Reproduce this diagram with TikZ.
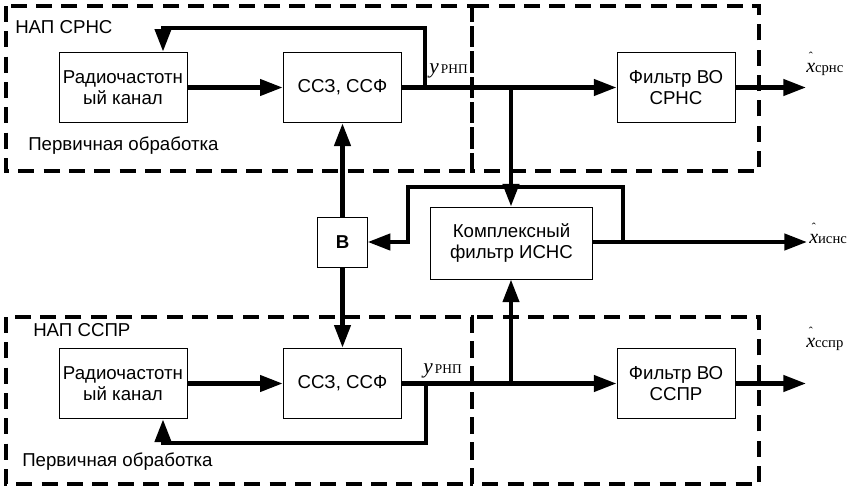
\documentclass[tikz,border=0pt]{standalone}
\usepackage{fontspec}
\setmainfont{Liberation Sans}
\newfontfamily\tms{Liberation Serif}
\usetikzlibrary{arrows.meta}
\newcommand{\estim}[1]{{\tms\fontsize{15}{15}\selectfont\rlap{\raisebox{9pt}{\kern2pt\fontsize{9}{9}\selectfont ˆ}}\textit{x}\fontsize{11}{11}\selectfont #1}}
\newcommand{\yrnp}{{\tms\fontsize{16}{16}\selectfont\textit{y}\fontsize{10}{10}\selectfont\,РНП}}
\begin{document}
\begin{tikzpicture}[x=0.75pt,y=-0.75pt,
	block/.style={draw,line width=0.75pt,align=center,minimum height=53pt,inner sep=1pt,font=\fontsize{14}{16}\selectfont},
	sig/.style={line width=3.2pt},
	arr/.style={sig,-{Triangle[length=17pt,width=12pt]}},
	frame/.style={line width=2.4pt,dash pattern=on 12pt off 7pt},
	note/.style={anchor=west,inner sep=0pt,font=\fontsize{14}{16}\selectfont},
	lbl/.style={anchor=base west,inner sep=0pt}]
	\useasboundingbox (0,0) rectangle (858,489);
	\draw[frame] (6,6) rectangle (472,171);
	\draw[frame] (472,6) rectangle (759,171);
	\draw[frame] (6,317) rectangle (472,484);
	\draw[frame] (472,317) rectangle (759,484);
	\node[note] (nap1) at (15,27) {НАП СРНС};
	\node[note] (po1) at (28,146) {Первичная обработка};
	\node[note] (nap2) at (33,330) {НАП ССПР};
	\node[note] (po2) at (22,462) {Первичная обработка};
	\node[block,minimum width=96pt] (rk1) at (123,87.5) {Радиочастотн\\ый канал};
	\node[block,minimum width=89pt] (ssz1) at (342.5,87.5) {ССЗ, ССФ};
	\node[block,minimum width=88.5pt] (fvo1) at (676,87.5) {Фильтр ВО\\СРНС};
	\node[block,minimum width=96pt] (rk2) at (123,383.5) {Радиочастотн\\ый канал};
	\node[block,minimum width=89pt] (ssz2) at (342.5,383.5) {ССЗ, ССФ};
	\node[block,minimum width=88.5pt] (fvo2) at (676,383.5) {Фильтр ВО\\ССПР};
	\node[block,minimum width=37pt,minimum height=37.5pt,font=\fontsize{14}{16}\selectfont\bfseries] (b) at (342.5,242) {В};
	\node[block,minimum width=122pt,minimum height=54pt] (kf) at (511.5,243) {Комплексный\\фильтр ИСНС};
	\coordinate (j1) at (425,87.5);
	\coordinate (fb1) at (163,28);
	\coordinate (j2) at (511,87.5);
	\coordinate (j3) at (623,242);
	\coordinate (lp) at (408,187);
	\coordinate (j4) at (426,383.5);
	\coordinate (fb2) at (163,443);
	\coordinate (j5) at (511,383.5);
	\coordinate (out1) at (806,87.5);
	\coordinate (out2) at (807,242);
	\coordinate (out3) at (806,383.5);
	\draw[arr] (rk1) -- (ssz1);
	\draw[arr] (ssz1) -- (fvo1);
	\draw[arr] (j1) |- (fb1) -- (fb1 |- rk1.north);
	\draw[arr] (j2) -- (j2 |- kf.north);
	\draw[arr] (fvo1) -- (out1);
	\draw[arr] (kf.east |- out2) -- (out2);
	\draw[arr] (j3) |- (lp) |- (b.east);
	\draw[arr] (b) -- (ssz1);
	\draw[arr] (b) -- (ssz2);
	\draw[arr] (rk2) -- (ssz2);
	\draw[arr] (ssz2) -- (fvo2);
	\draw[arr] (j4) |- (fb2) -- (fb2 |- rk2.south);
	\draw[arr] (j5) -- (j5 |- kf.south);
	\draw[arr] (fvo2) -- (out3);
	\node[lbl] (y1) at (429,73) {\yrnp};
	\node[lbl] (y2) at (423,373) {\yrnp};
	\node[lbl] (x1) at (806,72) {\estim{срнс}};
	\node[lbl] (x2) at (809,243) {\estim{иснс}};
	\node[lbl] (x3) at (806,347) {\estim{сспр}};
\end{tikzpicture}
\end{document}
